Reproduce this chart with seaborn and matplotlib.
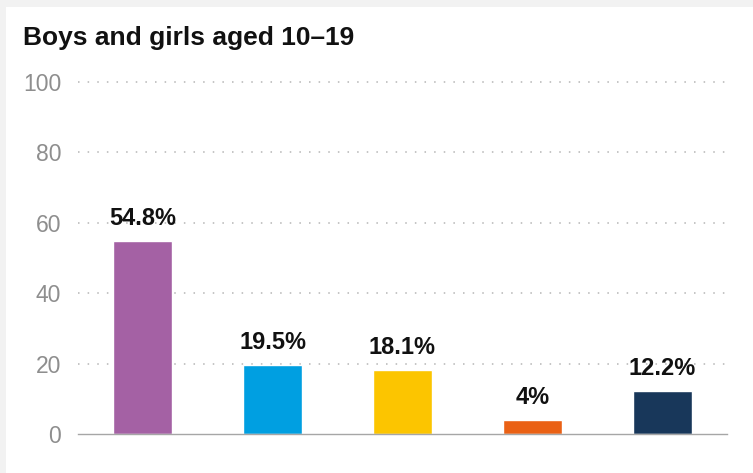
import matplotlib
matplotlib.use("Agg")
import matplotlib.pyplot as plt
import seaborn as sns
import pandas as pd
from matplotlib.patches import Rectangle

# Data
categories = ["Group 1", "Group 2", "Group 3", "Group 4", "Group 5"]
values = [54.8, 19.5, 18.1, 4.0, 12.2]
value_labels = ["54.8%", "19.5%", "18.1%", "4%", "12.2%"]
colors = ["#a461a4", "#009fe1", "#fcc500", "#ea6115", "#18375a"]
yticks = [0, 20, 40, 60, 80, 100]
title = "Boys and girls aged 10\u201319"

sns.set_theme(style="white")
plt.rcParams["font.family"] = ["Liberation Sans", "DejaVu Sans"]

fig = plt.figure(figsize=(7.53, 4.73), dpi=100, facecolor="#f2f2f2")
fig.patches.append(Rectangle((6 / 753, 0), 1 - 6 / 753, 1 - 7 / 473,
                             transform=fig.transFigure, facecolor="white",
                             edgecolor="none", zorder=-10))

ax = fig.add_axes([78 / 753, 39 / 473, 649 / 753, 352 / 473])
ax.set_facecolor("none")
ax.set_zorder(1)

df = pd.DataFrame({"cat": categories, "val": values})
sns.barplot(data=df, x="cat", y="val", hue="cat", palette=colors,
            width=0.455, legend=False, ax=ax, saturation=1)

ax.set_xlim(-0.5, 4.5)
ax.set_ylim(0, 100)
ax.set_yticks(yticks)
ax.set_yticklabels([str(t) for t in yticks])
ax.set_xticks([])
ax.set_xlabel("")
ax.set_ylabel("")
ax.tick_params(axis="y", length=0, pad=12, labelsize=16.5, labelcolor="#8e8e8e")

for s in ["top", "right", "left"]:
    ax.spines[s].set_visible(False)
ax.spines["bottom"].set_color("#a6a6a6")
ax.spines["bottom"].set_linewidth(1.0)

for t in yticks[1:]:
    ax.axhline(t, color="#b5b5b5", linewidth=1.1, linestyle=(0, (1, 5.3)),
               zorder=0, clip_on=False)

bars = [b for c in ax.containers for b in c]
for bar, lab in zip(bars, value_labels):
    ax.annotate(lab, (bar.get_x() + bar.get_width() / 2, bar.get_height()),
                xytext=(0, 8), textcoords="offset points", ha="center",
                va="bottom", fontsize=17, fontweight="bold", color="#111111")

fig.text(23 / 753, 1 - 26 / 473, title, ha="left", va="top",
         fontsize=19, fontweight="bold", color="#111111")

fig.savefig("out.png", dpi=100, facecolor=fig.get_facecolor())
